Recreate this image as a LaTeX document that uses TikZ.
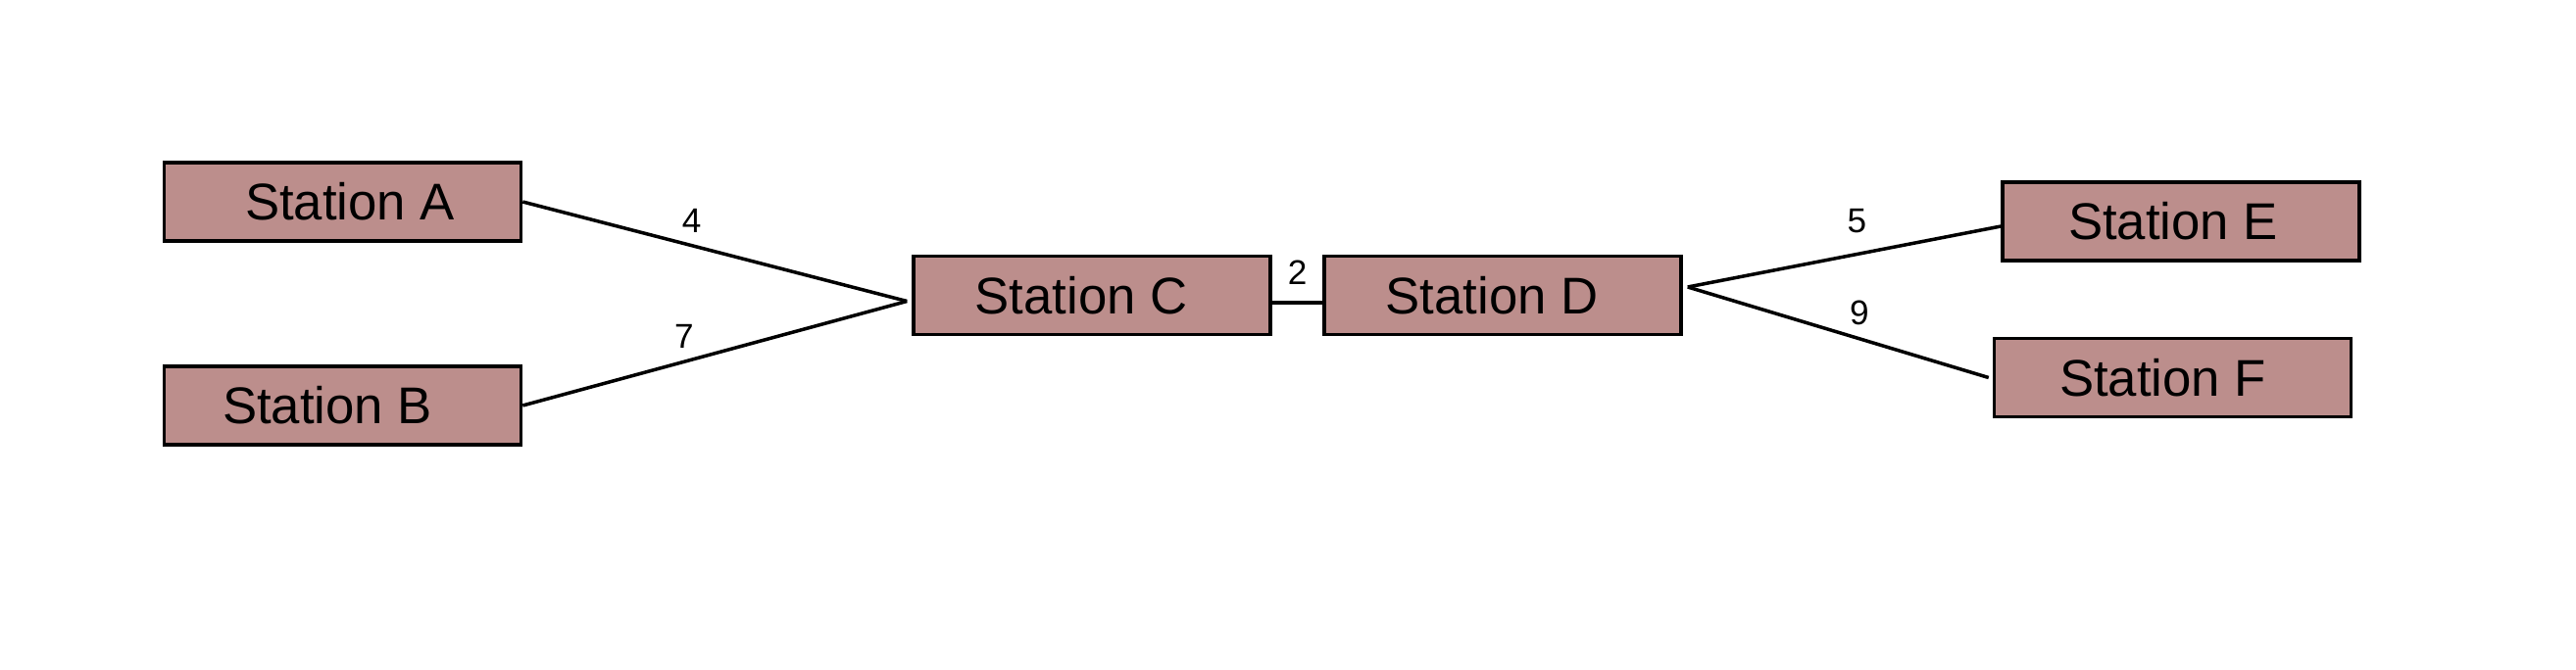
\documentclass[tikz,border=0pt]{standalone}
\usepackage{fontspec}
\setmainfont{Liberation Sans}
\usepackage{xcolor}
\definecolor{xrose}{HTML}{BC8E8C}
\usepackage{tikz}
\usetikzlibrary{calc}
\tikzset{
  %% Styles %%
  station/.style = {draw=black, line width=1pt, fill=xrose, minimum width=3.64cm,
    minimum height=0.8cm, inner sep=0pt, font=\fontsize{15}{18}\selectfont,
    execute at begin node={\hspace*{#1}}},
  station/.default = 0cm,
  track/.style = {draw=black, line width=1pt},
  weight/.style = {above, font=\fontsize{10}{12}\selectfont},
}

\begin{document}
\begin{tikzpicture}
            \useasboundingbox (0,0) rectangle (26.28,6.83);

            % Stations
            \node[station=0.15cm] (A) at (3.495,4.77) {Station A};
            \node[station=-0.31cm] (B) at (3.495,2.69) {Station B};
            \node[station=-0.22cm] (C) at (11.14,3.815) {Station C};
            \node[station=-0.22cm] (D) at (15.33,3.815) {Station D};
            \node[station=-0.16cm] (E) at (22.25,4.57) {Station E};
            \node[station=-0.2cm] (F) at (22.165,2.975) {Station F};

            % Junction points
            \coordinate (cin) at ([xshift=-0.05cm, yshift=-0.06cm]C.west);
            \coordinate (dout) at ([xshift=0.05cm, yshift=0.085cm]D.east);

            % Tracks
            \draw[track] (A.east) -- (cin) node[weight, pos=0.44] {4};
            \draw[track] (B.east) -- (cin) node[weight, pos=0.42] {7};
            \draw[track] ([yshift=-0.075cm]C.east) -- ([yshift=-0.075cm]D.west) node[weight, midway, yshift=0.05cm] {2};
            \draw[track] (dout) -- ([yshift=-0.05cm]E.west) node[weight, pos=0.54, yshift=0.08cm] {5};
            \draw[track] (dout) -- ([xshift=-0.04cm]F.west) node[weight, pos=0.57] {9};
        \end{tikzpicture}
\end{document}
